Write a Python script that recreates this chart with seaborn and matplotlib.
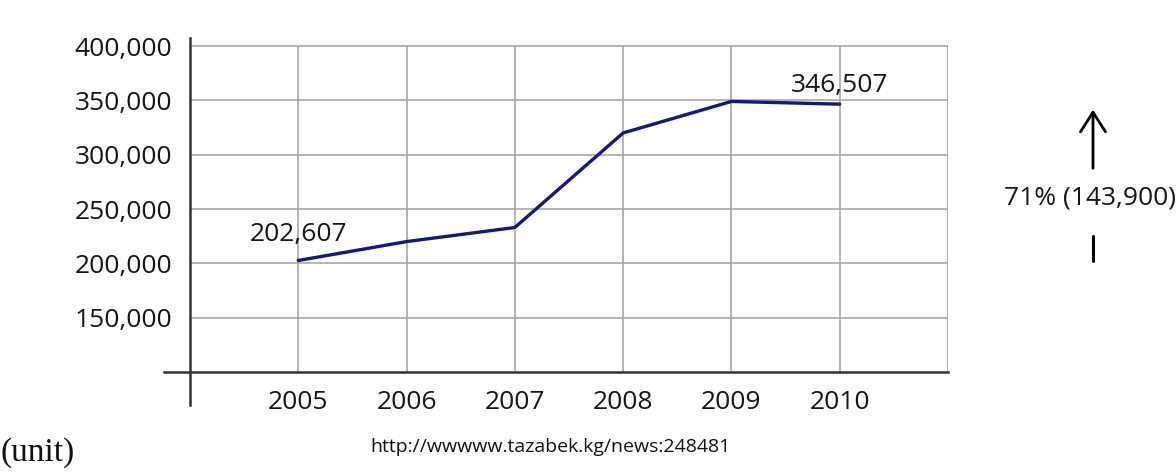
import matplotlib
matplotlib.use("Agg")
import matplotlib.pyplot as plt
from matplotlib.lines import Line2D
import seaborn as sns
import pandas as pd

# Registered units per year
years = [2005, 2006, 2007, 2008, 2009, 2010]
units = [202607, 220000, 233000, 320000, 349000, 346507]
y_ticks = [150000, 200000, 250000, 300000, 350000, 400000]
y_tick_labels = ["150,000", "200,000", "250,000", "300,000", "350,000", "400,000"]
x_tick_labels = ["2005", "2006", "2007", "2008", "2009", "2010"]
growth_label = "71% (143,900)"
source_label = "http://wwwww.tazabek.kg/news:248481"
unit_label = "(unit)"

sns.set_style("white")
plt.rcParams["font.family"] = ["Open Sans", "DejaVu Sans"]

TEXT = "#161616"
df = pd.DataFrame({"year": years, "units": units})

fig = plt.figure(figsize=(11.76, 4.72), dpi=100)
fig.patch.set_facecolor("white")
ax = fig.add_axes([164 / 1176, 1 - 405 / 472, 784 / 1176, 367 / 472])

sns.lineplot(data=df, x="year", y="units", ax=ax, color="#16167f",
             linewidth=2.4, zorder=3)

x0, x1 = 2004, 2011
y0, y1 = 100000, 400000
ax.set_xlim(2003.76, 2011)
ax.set_ylim(69600, 407400)

grid_kw = dict(color="#a0a0a0", linewidth=1.1, zorder=1)
ax.hlines(y_ticks, x0, x1, **grid_kw)
ax.vlines(years + [x1], y0, y1, **grid_kw)

# Axis lines crossing at (2004, 100000), extended past the grid
for side in ["top", "right"]:
    ax.spines[side].set_visible(False)
ax.spines["left"].set_position(("data", x0))
ax.spines["bottom"].set_position(("data", y0))
ax.spines["left"].set_bounds(69600, 407400)
ax.spines["bottom"].set_bounds(2003.76, 2011)
for side in ["left", "bottom"]:
    ax.spines[side].set_color("#333333")
    ax.spines[side].set_linewidth(1.8)
    ax.spines[side].set_zorder(2)

ax.set_yticks(y_ticks)
ax.set_yticklabels(y_tick_labels)
ax.set_xticks(years)
ax.set_xticklabels(x_tick_labels)
ax.tick_params(axis="both", length=0, labelsize=19, labelcolor=TEXT)
ax.tick_params(axis="y", pad=13)
ax.tick_params(axis="x", pad=13)
ax.set_xlabel("")
ax.set_ylabel("")

ax.annotate(f"{units[0]:,}", (years[0], units[0]), xytext=(0, 14),
            textcoords="offset points", ha="center", va="baseline",
            fontsize=19, color=TEXT)
ax.annotate(f"{units[-1]:,}", (years[-1], units[-1]), xytext=(0, 9),
            textcoords="offset points", ha="center", va="baseline",
            fontsize=19, color=TEXT)

# Growth marker on the right
ax_x = 1093 / 1176
fig.text(1090 / 1176, 1 - 198 / 472, growth_label, ha="center", va="center",
         fontsize=19, color=TEXT)
fig.patches.append(matplotlib.patches.FancyArrowPatch(
    (ax_x, 1 - 171 / 472), (ax_x, 1 - 107 / 472),
    transform=fig.transFigure, arrowstyle="->,head_length=0.7,head_width=0.45",
    mutation_scale=20, linewidth=2.0, color="black"))
fig.lines.append(Line2D([ax_x, ax_x], [1 - 236 / 472, 1 - 261 / 472],
                        transform=fig.transFigure, color="black", linewidth=2.2))

fig.text(550 / 1176, 1 - 447 / 472, source_label, ha="center", va="center",
         fontsize=14, color="#111111")
fig.text(0.0, 1 - 453 / 472, unit_label, ha="left", va="center",
         fontsize=24, family="Liberation Serif", color="#111111")

fig.savefig("out.png", dpi=100, facecolor="white")
